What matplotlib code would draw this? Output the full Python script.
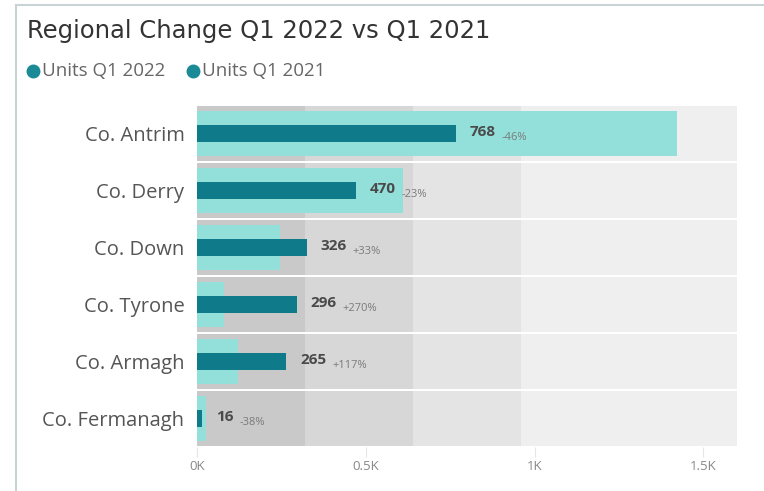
import numpy as np
import matplotlib.pyplot as plt
from matplotlib.lines import Line2D

plt.rcParams['font.family'] = ['Open Sans', 'DejaVu Sans']

# 데이터
counties = ['Co. Antrim', 'Co. Derry', 'Co. Down', 'Co. Tyrone', 'Co. Armagh', 'Co. Fermanagh']
units_2022 = [768, 470, 326, 296, 265, 16]
units_2021 = [1422, 610, 245, 80, 122, 26]
band_edges = [0, 320, 640, 960, 1600]
x_ticks = [0, 500, 1000, 1500]
x_tick_labels = ['0K', '0.5K', '1K', '1.5K']

band_colors = ['#c9c9c9', '#d7d7d7', '#e4e4e4', '#efefef']
light_teal = '#93e0da'
dark_teal = '#0f7b8a'

fig = plt.figure(figsize=(7.64, 4.91), dpi=100)
ax = fig.add_axes([197 / 764, 1 - 447 / 491, 540 / 764, 342 / 491])

y = np.arange(len(counties))

# 배경 밴드
for i in range(len(band_edges) - 1):
    ax.barh(y, band_edges[i + 1] - band_edges[i], left=band_edges[i],
            height=0.95, color=band_colors[i], zorder=1)

ax.barh(y, units_2021, height=0.78, color=light_teal, zorder=2)
ax.barh(y, units_2022, height=0.30, color=dark_teal, zorder=3)

for yi, v, prev in zip(y, units_2022, units_2021):
    pct = (v / prev - 1) * 100
    t = ax.annotate(f'{v}', xy=(v, yi), xytext=(10, 1), textcoords='offset points',
                    ha='left', va='center', fontsize=11, fontweight='bold',
                    color='#4a4a4a', zorder=5)
    ax.annotate(f'{pct:+.0f}%', xy=(1, 0.0), xycoords=t, xytext=(4, -3),
                textcoords='offset points', ha='left', va='bottom',
                fontsize=8, color='#7a7a7a', zorder=5)

ax.set_xlim(0, 1600)
ax.set_ylim(len(counties) - 0.5, -0.5)
ax.set_yticks(y)
ax.set_yticklabels(counties, fontsize=14.5, color='#555555')
ax.set_xticks(x_ticks)
ax.set_xticklabels(x_tick_labels, fontsize=9.5, color='#888888')
ax.tick_params(axis='y', length=0, pad=9)
ax.tick_params(axis='x', length=7, color='#e6e6e6', pad=2, direction='out')
for s in ax.spines.values():
    s.set_visible(False)

fig.text(27 / 764, 1 - 31 / 491, 'Regional Change Q1 2022 vs Q1 2021',
         fontsize=17.5, color='#333333', va='center', ha='left',
         family=['DejaVu Sans'])

# 범례
ly = 1 - 71 / 491
for name, xx in [('Units Q1 2022', 33), ('Units Q1 2021', 193)]:
    fig.add_artist(Line2D([xx / 764], [ly], marker='o', markersize=9,
                          color='#1a8a96', linestyle=''))
    fig.text((xx + 9) / 764, ly, name, fontsize=13.5, color='#666666',
             va='center', ha='left')

# 카드 테두리
fig.add_artist(Line2D([16 / 764, 16 / 764], [0, 1 - 5 / 491], color='#c9d3d6', lw=1.5))
fig.add_artist(Line2D([16 / 764, 1], [1 - 5 / 491, 1 - 5 / 491], color='#c9d3d6', lw=1.5))

fig.savefig('out.png', dpi=100)
